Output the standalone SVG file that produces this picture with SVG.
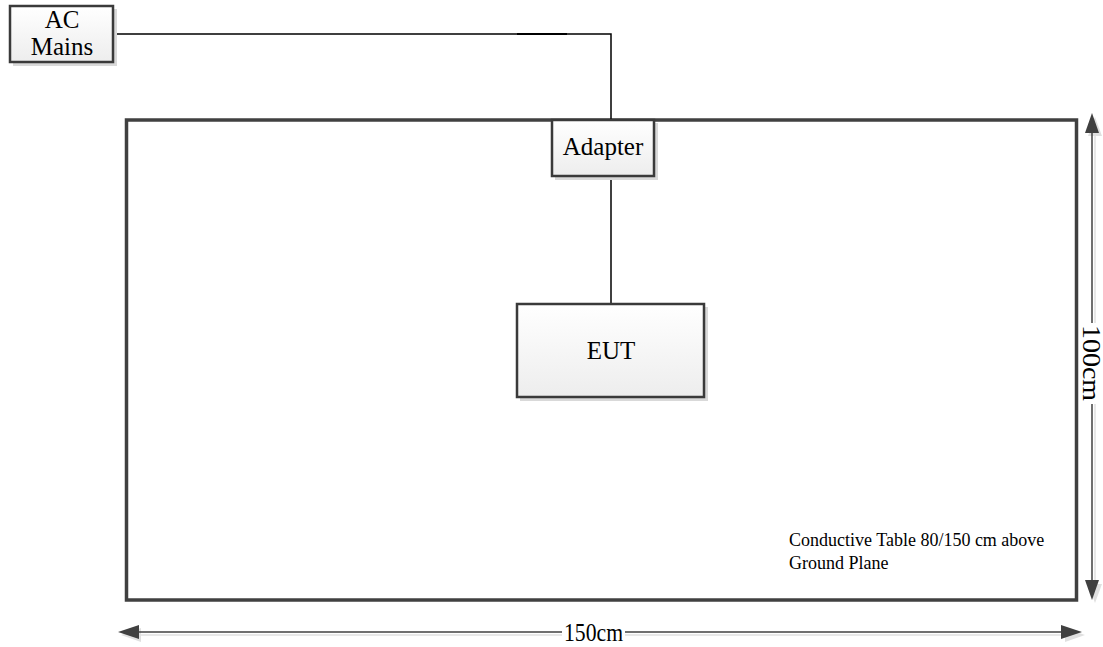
<svg xmlns="http://www.w3.org/2000/svg" width="1103" height="647" viewBox="0 0 1103 647">
  <defs>
    <linearGradient id="boxfill" x1="0" y1="0" x2="0" y2="1">
      <stop offset="0" stop-color="#ffffff"/>
      <stop offset="1" stop-color="#ededed"/>
    </linearGradient>
    <style>
      .box { fill: url(#boxfill); stroke: #3a3a3a; stroke-width: 2.5; }
      .shadow { fill: #d9d9d9; stroke: none; }
      .lbl { font-family: "Liberation Serif", "Times New Roman", serif; font-size: 25px; fill: #000; text-anchor: middle; }
      .dimtxt { font-family: "Liberation Serif", "Times New Roman", serif; font-size: 25px; fill: #000; text-anchor: middle; }
      .note { font-family: "Liberation Serif", "Times New Roman", serif; font-size: 18px; fill: #000; }
      .wire { fill: none; stroke: #000; stroke-width: 1.5; }
      .dim { fill: none; stroke: #404040; stroke-width: 1.5; }
      .dimshadow { fill: none; stroke: #e0e0e0; stroke-width: 1.5; }
      .head { fill: #404040; stroke: none; }
      .headshadow { fill: #e0e0e0; stroke: none; }
    </style>
  </defs>
  <rect width="1103" height="647" fill="#ffffff"/>

  <g id="table">
    <rect x="126.5" y="120" width="950" height="480" fill="none" stroke="#404040" stroke-width="3.5"/>
    <text class="note" x="789" y="546">Conductive Table 80/150 cm above</text>
    <text class="note" x="789" y="569">Ground Plane</text>
  </g>

  <g id="connectors">
    <polyline class="wire" points="114,34 611,34 611,120"/>
    <line x1="517" y1="34" x2="567" y2="34" stroke="#000" stroke-width="2"/>
    <line class="wire" x1="611" y1="176" x2="611" y2="303"/>
  </g>

  <g id="ac-mains">
    <rect class="shadow" x="13" y="9" width="104" height="57"/>
    <rect class="box" x="10" y="6" width="103" height="56"/>
    <text class="lbl" x="62" y="28">AC</text>
    <text class="lbl" x="62" y="55">Mains</text>
  </g>

  <g id="adapter">
    <rect class="shadow" x="555" y="123" width="103" height="57"/>
    <rect class="box" x="552" y="120" width="102" height="56"/>
    <text class="lbl" x="603" y="155">Adapter</text>
  </g>

  <g id="eut">
    <rect class="shadow" x="520" y="307" width="188" height="94"/>
    <rect class="box" x="517" y="304" width="187" height="93"/>
    <text class="lbl" x="611" y="359">EUT</text>
  </g>

  <g id="dim-100cm">
    <line class="dimshadow" x1="1095" y1="135" x2="1095" y2="323"/>
    <line class="dimshadow" x1="1095" y1="404" x2="1095" y2="583"/>
    <polygon class="headshadow" points="1095,117 1102,136 1088,136"/>
    <polygon class="headshadow" points="1095,603 1102,584 1088,584"/>
    <line class="dim" x1="1092" y1="132" x2="1092" y2="323"/>
    <line class="dim" x1="1092" y1="404" x2="1092" y2="582"/>
    <polygon class="head" points="1092,113 1099,133 1085,133"/>
    <polygon class="head" points="1092,600 1099,580 1085,580"/>
    <text class="dimtxt" transform="translate(1083,363) rotate(90)" textLength="76" lengthAdjust="spacingAndGlyphs">100cm</text>
  </g>

  <g id="dim-150cm">
    <line class="dimshadow" x1="140" y1="635" x2="562" y2="635"/>
    <line class="dimshadow" x1="625" y1="635" x2="1063" y2="635"/>
    <polygon class="headshadow" points="121,635 141,628 141,642"/>
    <polygon class="headshadow" points="1085,635 1065,628 1065,642"/>
    <line class="dim" x1="138" y1="632" x2="562" y2="632"/>
    <line class="dim" x1="625" y1="632" x2="1063" y2="632"/>
    <polygon class="head" points="118,632 139,625 139,639"/>
    <polygon class="head" points="1082,632 1061,625 1061,639"/>
    <text class="dimtxt" x="593.5" y="641" font-size="23" textLength="59" lengthAdjust="spacingAndGlyphs">150cm</text>
  </g>
</svg>
